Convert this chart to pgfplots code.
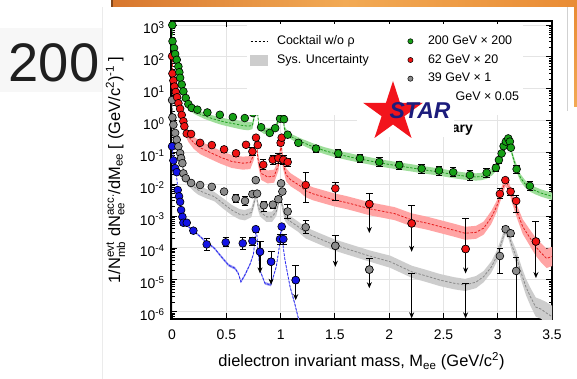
\documentclass[border=0pt]{standalone}
\usepackage{fontspec}
\setmainfont{Liberation Sans}
\usepackage{amsmath}
\usepackage{pgfplots}
\usepackage{pgfplotstable}
\pgfplotsset{compat=1.18}
\usetikzlibrary{arrows.meta}

\definecolor{gMark}{HTML}{16A016}
\definecolor{rMark}{HTML}{F01414}
\definecolor{kMark}{HTML}{8C8C8C}
\definecolor{bMark}{HTML}{1414E6}
\definecolor{gLine}{HTML}{1E9E1E}
\definecolor{rLine}{HTML}{E61E1E}
\definecolor{kLine}{HTML}{8A8A8A}
\definecolor{bLine}{HTML}{2828F0}
\definecolor{gBand}{HTML}{9EDE9A}
\definecolor{rBand}{HTML}{FFA4A4}
\definecolor{kBand}{HTML}{CDCDCD}
\definecolor{bBand}{HTML}{9A9AF2}
\definecolor{gridc}{HTML}{E4E4E4}
\definecolor{orA}{HTML}{D8772E}
\definecolor{orB}{HTML}{F2AA55}
\definecolor{orC}{HTML}{E98C35}
\definecolor{starRed}{HTML}{F2141C}
\definecolor{starBlue}{HTML}{1C1C7C}

% ---------------- data points: mass, yield, relative errors (+/-) ----------------
\pgfplotstableread{
m v ep em
0.002 1000 0.05 0.05
0.004 310 0.05 0.05
0.018 190 0.05 0.05
0.028 123 0.05 0.05
0.043 81 0.05 0.05
0.058 50 0.05 0.05
0.067 33 0.05 0.05
0.074 22 0.05 0.05
0.089 13.5 0.05 0.05
0.104 8.3 0.05 0.05
0.126 5.1 0.05 0.05
0.150 3.3 0.05 0.05
0.180 2.5 0.05 0.05
0.233 2.2 0.08 0.08
0.325 1.8 0.1 0.1
0.440 1.52 0.1 0.1
0.560 1.29 0.1 0.1
0.670 1.2 0.1 0.1
0.745 1.72 0.1 0.1
0.770 4.5 0.05 0.05
0.778 3.2 0.05 0.05
0.785 2.3 0.05 0.05
0.820 0.62 0.1 0.1
0.900 0.41 0.15 0.15
0.950 0.58 0.1 0.1
0.995 1.15 0.05 0.05
1.004 3.0 0.05 0.05
1.010 3.6 0.05 0.05
1.019 1.8 0.05 0.05
1.031 1.1 0.05 0.05
1.065 0.36 0.1 0.1
1.163 0.20 0.2 0.2
1.326 0.132 0.3 0.25
1.531 0.093 0.3 0.25
1.731 0.065 0.35 0.27
1.909 0.050 0.35 0.27
2.093 0.040 0.35 0.27
2.299 0.031 0.35 0.27
2.459 0.027 0.38 0.28
2.590 0.024 0.38 0.28
2.744 0.0195 0.4 0.3
2.898 0.023 0.38 0.28
2.983 0.033 0.3 0.25
3.011 0.058 0.2 0.2
3.036 0.093 0.15 0.15
3.054 0.158 0.1 0.1
3.075 0.219 0.1 0.1
3.097 0.275 0.1 0.1
3.112 0.219 0.1 0.1
3.121 0.141 0.1 0.1
3.174 0.030 0.3 0.25
3.296 0.0089 0.4 0.3
}\ptsG

\pgfplotstableread{
m v ep em
0.000 105 0.05 0.05
0.003 30 0.05 0.05
0.012 18 0.05 0.05
0.021 11.7 0.05 0.05
0.034 7.9 0.05 0.05
0.046 5.4 0.05 0.05
0.058 3.5 0.05 0.05
0.074 2.35 0.05 0.05
0.089 1.5 0.05 0.05
0.104 0.95 0.05 0.05
0.113 0.66 0.05 0.05
0.135 0.39 0.08 0.08
0.175 0.38 0.08 0.08
0.258 0.20 0.12 0.12
0.366 0.17 0.15 0.15
0.479 0.125 0.2 0.18
0.589 0.094 0.25 0.2
0.681 0.174 0.2 0.18
0.740 0.107 0.35 0.26
0.773 0.29 0.15 0.15
0.789 0.17 0.2 0.18
0.840 0.041 0.45 0.3
0.927 0.059 0.38 0.28
0.979 0.066 0.45 0.32
1.000 0.20 0.15 0.15
1.010 0.29 0.15 0.15
1.025 0.059 0.4 0.3
1.065 0.050 0.3 0.25
1.231 0.0095 1.4 0.72
1.504 0.0074 0.58 0.57
3.020 0.0050 0.44 0.3
3.070 0.0135 0.15 0.15
3.119 0.0059 0.25 0.22
3.170 0.0030 0.5 0.55
}\ptsR
\pgfplotstableread{
m v ep em
1.817 0.0024 1.17 0.877
2.207 5.9e-4 2.76 0.871
2.704 9.3e-5 8.2 0.83
3.352 1.6e-4 3.25 0.929
}\ulR

\pgfplotstableread{
m v ep em
0.000 4.4 0.05 0.05
0.003 1.26 0.05 0.05
0.012 0.74 0.05 0.05
0.028 0.41 0.05 0.05
0.043 0.25 0.05 0.05
0.058 0.155 0.05 0.05
0.074 0.095 0.05 0.05
0.083 0.066 0.05 0.05
0.095 0.046 0.05 0.05
0.104 0.022 0.05 0.05
0.126 0.0155 0.05 0.05
0.175 0.011 0.08 0.08
0.258 0.0095 0.1 0.1
0.366 0.0083 0.12 0.12
0.479 0.0059 0.2 0.18
0.587 0.0036 0.34 0.25
0.672 0.0030 0.37 0.27
0.740 0.0049 0.2 0.18
0.771 0.0135 0.1 0.1
0.783 0.0051 0.15 0.15
0.845 0.0022 0.36 0.38
0.928 0.0023 0.3 0.25
0.979 0.0034 0.25 0.22
1.004 0.0107 0.1 0.1
1.016 0.0059 0.15 0.15
1.065 0.0014 0.62 0.38
1.231 4.5e-4 0.62 0.38
3.020 5.6e-5 0.75 0.71
3.073 3.9e-4 0.2 0.18
3.119 2.9e-4 0.2 0.18
3.170 1.9e-5 1.69 0.99
}\ptsK
\pgfplotstableread{
m v ep em
1.504 1.17e-4 1.06 0.78
1.817 2.1e-5 1.28 0.74
}\ulK

\pgfplotstableread{
m v ep em
0.000 0.155 0.05 0.05
0.012 0.056 0.05 0.05
0.028 0.032 0.05 0.05
0.043 0.024 0.05 0.05
0.052 0.0066 0.05 0.05
0.064 0.0042 0.05 0.05
0.074 0.0028 0.05 0.05
0.083 0.00155 0.08 0.08
0.095 9.5e-4 0.1 0.1
0.104 6.2e-4 0.1 0.1
0.135 6.2e-4 0.12 0.12
0.196 3.5e-4 0.2 0.18
0.319 1.3e-4 0.51 0.34
0.494 1.5e-4 0.39 0.28
0.651 1.4e-4 0.54 0.35
0.740 1.65e-4 0.34 0.25
0.771 3.9e-4 0.25 0.2
0.994 1.9e-4 0.44 0.3
1.010 4.7e-4 0.2 0.18
1.025 1.9e-4 0.44 0.3
}\ptsB
\pgfplotstableread{
m v ep em
0.810 7.6e-5 1.17 0.79
0.912 3.7e-5 1.06 0.81
1.139 9.8e-6 1.96 0.765
}\ulB

% ---------------- cocktails: mass, central value, band factor ----------------
\pgfplotstableread{
m c f
0.000 1000 1.01
0.005 420 1.01
0.010 280 1.03
0.020 170 1.05
0.030 115 1.06
0.040 82 1.07
0.050 60 1.08
0.060 44 1.08
0.070 30 1.1
0.080 19 1.1
0.090 12.5 1.12
0.100 8.5 1.15
0.120 5.0 1.18
0.140 3.4 1.2
0.170 2.5 1.22
0.200 2.0 1.22
0.250 1.65 1.22
0.300 1.4 1.25
0.350 1.22 1.25
0.400 1.08 1.28
0.450 0.97 1.3
0.500 0.88 1.3
0.550 0.82 1.33
0.600 0.76 1.35
0.650 0.70 1.35
0.700 0.67 1.35
0.740 0.70 1.3
0.760 1.5 1.25
0.775 5.2 1.2
0.785 2.2 1.2
0.800 0.62 1.25
0.850 0.47 1.25
0.900 0.47 1.25
0.950 0.58 1.25
0.985 1.1 1.22
1.005 4.3 1.2
1.020 1.6 1.2
1.035 0.55 1.22
1.070 0.36 1.22
1.100 0.31 1.22
1.150 0.25 1.25
1.200 0.21 1.25
1.300 0.15 1.28
1.400 0.115 1.28
1.500 0.092 1.3
1.600 0.077 1.3
1.700 0.065 1.3
1.800 0.056 1.3
1.900 0.048 1.3
2.000 0.042 1.3
2.100 0.037 1.3
2.200 0.033 1.3
2.300 0.029 1.3
2.400 0.026 1.3
2.500 0.023 1.3
2.600 0.020 1.3
2.700 0.018 1.3
2.800 0.017 1.3
2.850 0.0175 1.3
2.900 0.0195 1.3
2.950 0.025 1.3
3.000 0.040 1.3
3.030 0.062 1.3
3.060 0.13 1.28
3.085 0.30 1.25
3.100 0.28 1.25
3.120 0.13 1.25
3.150 0.055 1.28
3.180 0.028 1.3
3.210 0.016 1.3
3.250 0.0105 1.3
3.300 0.0075 1.3
3.350 0.0062 1.3
3.400 0.0053 1.3
3.450 0.0047 1.3
3.500 0.0042 1.3
}\ckG

\pgfplotstableread{
m c f
0.000 105 1.01
0.005 40 1.01
0.010 20 1.05
0.020 12 1.05
0.030 8.5 1.08
0.040 6.2 1.1
0.050 4.6 1.1
0.060 3.4 1.12
0.070 2.5 1.15
0.080 1.8 1.15
0.090 1.3 1.2
0.100 0.9 1.3
0.120 0.5 1.4
0.150 0.32 1.5
0.200 0.2 1.55
0.260 0.14 1.6
0.350 0.10 1.6
0.450 0.07 1.6
0.550 0.052 1.6
0.650 0.046 1.6
0.720 0.048 1.6
0.755 0.09 1.5
0.775 0.30 1.4
0.790 0.065 1.5
0.820 0.022 1.6
0.880 0.017 1.6
0.940 0.018 1.6
0.980 0.04 1.5
1.005 0.19 1.4
1.020 0.05 1.5
1.050 0.02 1.6
1.090 0.014 1.6
1.180 0.0089 1.6
1.230 0.0063 1.6
1.300 0.0050 1.6
1.400 0.0040 1.6
1.500 0.0032 1.6
1.600 0.0027 1.6
1.700 0.0022 1.6
1.820 0.0017 1.6
1.950 0.0014 1.6
2.050 0.0012 1.6
2.210 7.6e-4 1.6
2.350 6.0e-4 1.6
2.470 4.7e-4 1.6
2.600 3.6e-4 1.6
2.700 2.9e-4 1.6
2.800 3.1e-4 1.6
2.870 4.2e-4 1.6
2.940 9e-4 1.6
2.990 0.002 1.5
3.030 0.005 1.5
3.070 0.012 1.4
3.100 0.009 1.4
3.130 0.0041 1.5
3.180 0.0013 1.6
3.230 4.7e-4 1.7
3.300 2.0e-4 1.8
3.350 1.1e-4 1.9
3.400 7e-5 2.0
3.450 4.7e-5 2.0
3.500 5.4e-5 2.0
}\ckR

\pgfplotstableread{
m c f
0.000 4.4 1.01
0.005 1.5 1.01
0.010 0.85 1.05
0.020 0.55 1.05
0.030 0.38 1.08
0.040 0.27 1.1
0.050 0.19 1.1
0.060 0.14 1.12
0.070 0.10 1.15
0.080 0.07 1.15
0.090 0.048 1.2
0.100 0.032 1.25
0.120 0.018 1.3
0.150 0.012 1.35
0.200 0.0085 1.4
0.240 0.0066 1.4
0.320 0.0050 1.4
0.390 0.0041 1.4
0.470 0.0025 1.45
0.550 0.00155 1.45
0.620 0.00115 1.45
0.670 0.00107 1.45
0.730 0.0013 1.4
0.760 0.0030 1.35
0.775 0.0051 1.3
0.790 0.0022 1.35
0.810 0.00138 1.4
0.870 0.00095 1.45
0.920 0.00095 1.45
0.960 0.0014 1.4
0.994 0.0041 1.3
1.010 0.0025 1.35
1.040 0.0010 1.4
1.070 7.6e-4 1.45
1.160 4.7e-4 1.45
1.230 3.0e-4 1.5
1.350 2.0e-4 1.5
1.500 1.23e-4 1.5
1.650 8.5e-5 1.5
1.820 5.6e-5 1.5
2.010 3.7e-5 1.55
2.210 1.78e-5 1.55
2.350 1.3e-5 1.55
2.470 9.8e-6 1.55
2.600 7.8e-6 1.55
2.700 6.9e-6 1.55
2.800 8.5e-6 1.55
2.870 1.26e-5 1.5
2.940 2.5e-5 1.5
2.990 5.4e-5 1.5
3.030 1.3e-4 1.45
3.070 3.6e-4 1.4
3.100 2.8e-4 1.45
3.130 1.2e-4 1.5
3.170 5.4e-5 1.6
3.220 1.5e-5 1.7
3.260 6.0e-6 1.8
3.300 3.0e-6 1.9
3.350 1.4e-6 2.0
3.400 1.2e-6 2.0
3.450 9e-7 2.2
3.500 7e-7 2.2
}\ckK

\pgfplotstableread{
m c f
0.000 0.155 1.01
0.010 0.08 1.02
0.020 0.05 1.03
0.030 0.033 1.04
0.040 0.02 1.05
0.050 0.009 1.06
0.060 0.005 1.06
0.070 0.0031 1.07
0.080 0.0019 1.07
0.090 0.0012 1.08
0.100 8.0e-4 1.08
0.120 6.0e-4 1.08
0.135 5.2e-4 1.08
0.190 3.6e-4 1.08
0.240 2.6e-4 1.08
0.300 1.7e-4 1.08
0.390 9.8e-5 1.08
0.450 5.5e-5 1.1
0.520 2.9e-5 1.1
0.580 2.3e-5 1.1
0.610 1.6e-5 1.1
0.634 8.7e-6 1.1
0.670 1.4e-5 1.1
0.720 3.2e-5 1.1
0.750 6.5e-5 1.08
0.765 2.0e-4 1.06
0.775 4.7e-4 1.05
0.790 1.0e-4 1.06
0.810 2.0e-5 1.08
0.855 7.8e-6 1.1
0.910 6.9e-6 1.1
0.960 2.6e-5 1.08
0.990 1.2e-4 1.06
1.005 4.9e-4 1.05
1.025 1.0e-4 1.06
1.040 4.2e-5 1.08
1.087 6.0e-6 1.1
1.130 1.8e-6 1.1
1.160 6.9e-7 1.1
1.200 2.5e-7 1.1
}\ckB

% closed outline of each band: upper edge forward, lower edge backward
\newcommand\makeband[2]{%
  \pgfplotstablesort[sort key=m, sort cmp=float <]{#1}{#2}%
  \pgfplotstablecreatecol[create col/expr={\thisrow{c}*\thisrow{f}}]{y}{#1}%
  \pgfplotstablesort[sort key=m, sort cmp=float >]{\tmpband}{#2}%
  \pgfplotstablecreatecol[create col/expr={\thisrow{c}/\thisrow{f}}]{y}{\tmpband}%
  \pgfplotstablevertcat{#1}{\tmpband}%
}
\makeband{\bandG}{\ckG}
\makeband{\bandR}{\ckR}
\makeband{\bandK}{\ckK}
\makeband{\bandB}{\ckB}

\pgfplotsset{
  pts/.style={only marks, mark=*, mark size=3.9bp, forget plot,
    mark options={draw=black, line width=0.6bp, fill=#1},
    error bars/y dir=both, error bars/y explicit relative,
    error bars/error bar style={black, line width=0.9bp},
    error bars/error mark options={rotate=90, black, line width=0.9bp, mark size=3.2bp}},
  ulcap/.style={only marks, mark=*, mark size=3.9bp, forget plot,
    mark options={draw=black, line width=0.6bp, fill=#1},
    error bars/y dir=plus, error bars/y explicit relative,
    error bars/error bar style={black, line width=1.1bp},
    error bars/error mark options={rotate=90, black, line width=1.1bp, mark size=3.5bp}},
  ularrow/.style={only marks, mark=*, mark size=3.9bp, forget plot,
    mark options={draw=black, line width=0.6bp, fill=#1},
    error bars/y dir=minus, error bars/y explicit relative,
    error bars/error mark=none,
    error bars/error bar style={black, line width=1.1bp, -{Stealth[length=6bp, width=5bp]}}},
  cock/.style={#1, dash pattern=on 2.5pt off 1.5pt, line width=0.8bp, forget plot},
  lgmark/.style={only marks, mark=*, mark size=2.6bp,
    mark options={fill=#1, draw=black, line width=0.5bp}},
}

\begin{document}
\begin{tikzpicture}
\path[use as bounding box] (0,0) rectangle (577bp,379bp);
\fill[white] (0,0) rectangle (577bp,379bp);

% slide backdrop
\fill[black!3] (0,287bp) rectangle (102bp,351bp);
\node[anchor=base west, inner sep=0, font=\fontsize{54.5}{54.5}\selectfont, text=black!88] at (8.5bp,297bp) {200};
\fill[white] (102bp,0) rectangle (570bp,372bp);
\draw[black!8, line width=0.8bp] (102bp,0) -- (102bp,372bp);
\draw[black!18, line width=0.6bp] (567bp,268bp) -- (567bp,372bp);

\begin{axis}[
  at={(171bp,60bp)}, anchor=south west,
  width=381bp, height=298bp, scale only axis,
  ymode=log,
  xmin=-0.01, xmax=3.5, ymin=5.9e-7, ymax=1337,
  xtick={0,0.5,1,1.5,2,2.5,3,3.5},
  xticklabels={0,0.5,1,1.5,2,2.5,3,3.5},
  ytick={1e-6,1e-5,1e-4,1e-3,1e-2,1e-1,1,10,100,1000},
  yticklabels={10\textsuperscript{-6},10\textsuperscript{-5},10\textsuperscript{-4},10\textsuperscript{-3},10\textsuperscript{-2},10\textsuperscript{-1},10\textsuperscript{0},10\textsuperscript{1},10\textsuperscript{2},10\textsuperscript{3}},
  minor ytick={6e-7,7e-7,8e-7,9e-7,
    2e-6,3e-6,4e-6,5e-6,6e-6,7e-6,8e-6,9e-6,
    2e-5,3e-5,4e-5,5e-5,6e-5,7e-5,8e-5,9e-5,
    2e-4,3e-4,4e-4,5e-4,6e-4,7e-4,8e-4,9e-4,
    2e-3,3e-3,4e-3,5e-3,6e-3,7e-3,8e-3,9e-3,
    0.02,0.03,0.04,0.05,0.06,0.07,0.08,0.09,
    0.2,0.3,0.4,0.5,0.6,0.7,0.8,0.9,
    2,3,4,5,6,7,8,9,
    20,30,40,50,60,70,80,90,
    200,300,400,500,600,700,800,900},
  tick align=inside,
  major tick length=6bp, minor tick length=3.5bp,
  tick style={black, line width=0.9bp},
  axis line style={line width=1.2bp},
  xmajorgrids, ymajorgrids,
  major grid style={draw=gridc, line width=1bp},
  xticklabel style={font=\fontsize{14}{16}\selectfont, yshift=-7bp},
  yticklabel style={font=\fontsize{14}{16}\selectfont, xshift=-3bp, yshift=-3bp},
  xlabel={dielectron invariant mass, M$_{\text{ee}}$ (GeV/c$^{\text{2}}$)},
  ylabel={1/N$^{\text{evt}}_{\text{mb}}$ dN$^{\text{acc.}}_{\text{ee}}$/dM$_{\text{ee}}$ [ (GeV/c$^{\text{2}}$)$^{\text{-1}}$ ]},
  label style={font=\fontsize{16.5}{18}\selectfont},
  xlabel style={at={(axis description cs:0.5,-0.141)}, anchor=center},
  ylabel style={at={(axis description cs:-0.1457,0.5)}, anchor=center},
  legend columns=2, legend cell align=left,
  legend style={at={(0.1995,1)}, anchor=north west, yshift=-3bp,
    draw=none, fill=white, inner xsep=3bp, inner ysep=10bp,
    font=\fontsize{12.5}{14}\selectfont, row sep=4.5bp,
    nodes={inner sep=1bp, text height=9.2bp, text depth=3bp},
    /tikz/column 1/.style={column sep=8bp},
    /tikz/column 2/.style={column sep=38bp},
    /tikz/column 3/.style={column sep=14bp}},
]

% systematic bands of the cocktails
\addplot[fill=gBand, draw=none, forget plot] table[x=m, y=y] {\bandG} -- cycle;
\addplot[fill=rBand, draw=none, forget plot] table[x=m, y=y] {\bandR} -- cycle;
\addplot[fill=kBand, draw=none, forget plot] table[x=m, y=y] {\bandK} -- cycle;
\addplot[fill=bBand, draw=none, forget plot] table[x=m, y=y] {\bandB} -- cycle;

% cocktail central curves
\addplot[cock=gLine] table[x=m, y=c] {\ckG};
\addplot[cock=rLine] table[x=m, y=c] {\ckR};
\addplot[cock=kLine] table[x=m, y=c] {\ckK};
\addplot[cock=bLine] table[x=m, y=c] {\ckB};

% upper limits without a visible central point
\addplot[black, line width=1.1bp, -{Stealth[length=6bp, width=5bp]}, forget plot] coordinates {(2.207,1.58e-5) (2.207,6.2e-7)};
\addplot[black, line width=1.1bp, forget plot] coordinates {(2.175,1.58e-5) (2.239,1.58e-5)};
\addplot[black, line width=1.1bp, -{Stealth[length=6bp, width=5bp]}, forget plot] coordinates {(2.704,7.8e-6) (2.704,6.2e-7)};
\addplot[black, line width=1.1bp, forget plot] coordinates {(2.672,7.8e-6) (2.736,7.8e-6)};

% upper limits
\addplot[ularrow=kMark] table[x=m, y=v, y error plus=ep, y error minus=em] {\ulK};
\addplot[ulcap=kMark] table[x=m, y=v, y error plus=ep, y error minus=em] {\ulK};
\addplot[ularrow=bMark] table[x=m, y=v, y error plus=ep, y error minus=em] {\ulB};
\addplot[ulcap=bMark] table[x=m, y=v, y error plus=ep, y error minus=em] {\ulB};
\addplot[ularrow=rMark] table[x=m, y=v, y error plus=ep, y error minus=em] {\ulR};
\addplot[ulcap=rMark] table[x=m, y=v, y error plus=ep, y error minus=em] {\ulR};

% measured points
\addplot[pts=bMark] table[x=m, y=v, y error plus=ep, y error minus=em] {\ptsB};
\addplot[pts=kMark] table[x=m, y=v, y error plus=ep, y error minus=em] {\ptsK};
\addplot[pts=rMark] table[x=m, y=v, y error plus=ep, y error minus=em] {\ptsR};
\addplot[pts=gMark] table[x=m, y=v, y error plus=ep, y error minus=em] {\ptsG};

% legend, filled row by row
\addlegendimage{black, dash pattern=on 2.5pt off 1.5pt, line width=0.8bp}
\addlegendentry{Cocktail w/o ρ}
\addlegendimage{lgmark=gMark}
\addlegendentry{200 GeV × 200}
\addlegendimage{legend image code/.code={\fill[kBand] (0bp,-5bp) rectangle (17bp,5bp);}}
\addlegendentry{Sys. Uncertainty}
\addlegendimage{lgmark=rMark}
\addlegendentry{62 GeV × 20}
\addlegendimage{empty legend}
\addlegendentry{}
\addlegendimage{lgmark=kMark}
\addlegendentry{39 GeV × 1}
\addlegendimage{empty legend}
\addlegendentry{}
\addlegendimage{lgmark=bMark}
\addlegendentry{19.6 GeV × 0.05}
\end{axis}

% collaboration logo
\node[anchor=base east, inner sep=0, font=\fontsize{14}{14}\selectfont\bfseries] at (473bp,246bp) {Preliminary};
\fill[white] (357bp,242bp) rectangle (454bp,296bp);
\fill[starRed] (393bp,266.5bp) +(90:31.5bp) -- +(126:12bp) -- +(162:31.5bp) -- +(198:12bp) -- +(234:31.5bp) -- +(270:12bp) -- +(306:31.5bp) -- +(342:12bp) -- +(18:31.5bp) -- +(54:12bp) -- cycle;
\node[inner sep=0, font=\fontsize{23}{23}\selectfont\bfseries\itshape, text=starBlue] at (420bp,268.5bp) {STAR};

% slide header strip
\shade[left color=orA, right color=orC, middle color=orB] (113bp,372bp) rectangle (577bp,379bp);
\fill[orA!60!black] (110.5bp,372bp) rectangle (113bp,379bp);
\shade[top color=orC, bottom color=orB] (574bp,272bp) rectangle (577bp,372bp);
\end{tikzpicture}
\end{document}
